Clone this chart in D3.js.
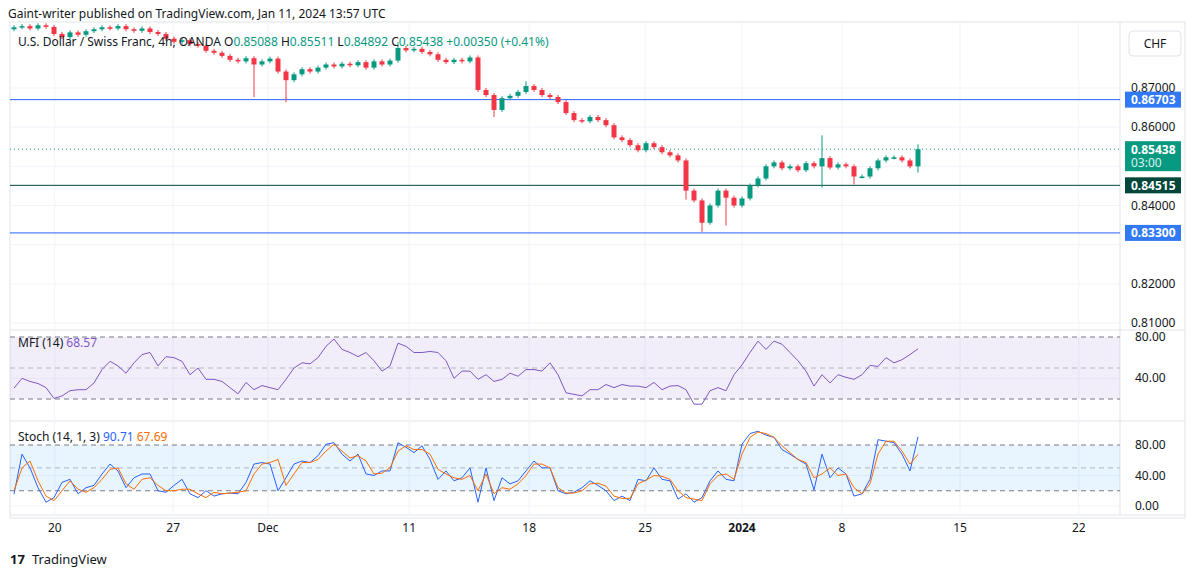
<!DOCTYPE html>
<html lang="en">
<head>
<meta charset="UTF-8">
<title>USDCHF 4h</title>
<script src="https://d3js.org/d3.v7.min.js"></script>
<style>
  body { margin: 0; background: #fff; }
  text { font-family: "Noto Sans", "DejaVu Sans", sans-serif; }
</style>
</head>
<body>
<script>
// closes, one per 8 hours (open = previous close)
const closes = [
  0.8855, 0.8858, 0.8852, 0.8860, 0.8856, 0.8838, 0.8830, 0.8842, 0.8836, 0.8845,
  0.8850, 0.8855, 0.8852, 0.8858, 0.8850, 0.8846, 0.8852, 0.8843, 0.8838, 0.8826,
  0.8818, 0.8822, 0.8812, 0.8808, 0.8795, 0.8790, 0.8782, 0.8772, 0.8768, 0.8776,
  0.8760, 0.8768, 0.8775, 0.8742, 0.8720, 0.8735, 0.8748, 0.8742, 0.8752, 0.8760,
  0.8755, 0.8762, 0.8758, 0.8766, 0.8752, 0.8768, 0.8760, 0.8770, 0.8802, 0.8796,
  0.8800, 0.8792, 0.8786, 0.8772, 0.8766, 0.8772, 0.8768, 0.8778, 0.8695, 0.8682,
  0.8644, 0.8674, 0.8680, 0.8690, 0.8705, 0.8695, 0.8682, 0.8677, 0.8664, 0.8636,
  0.8618, 0.8615, 0.8626, 0.8618, 0.8605, 0.8574, 0.8567, 0.8554, 0.8541, 0.8559,
  0.8549, 0.8536, 0.8528, 0.8515, 0.8438, 0.8413, 0.8356, 0.8400, 0.8438, 0.8420,
  0.8400, 0.8418, 0.8451, 0.8469, 0.8500, 0.8510, 0.8495, 0.8500, 0.8490, 0.8508,
  0.8500, 0.8521, 0.8497, 0.8505, 0.8500, 0.8474, 0.8474, 0.8495, 0.8515, 0.8523,
  0.8523, 0.8515, 0.8500, 0.85438
];
const firstOpen = 0.8850;
// notable wicks [index, high, low]
const wicks = [
  [30, null, 0.8682], [34, null, 0.8669], [60, null, 0.8631], [86, null, 0.8338],
  [89, null, 0.8354], [101, 0.8574, 0.8451], [105, null, 0.8459], [113, 0.85511, 0.84892],
  [84, null, 0.8420], [64, 0.8712, null], [48, 0.8812, null]
];
const mfi = [
  30.5, 40, 37, 35, 31, 20.5, 23, 28, 29, 29, 35.5, 48.5, 56.5, 52, 45, 55, 63, 65, 52, 61,
  60, 56.5, 43.5, 50, 39, 39, 37, 31, 25, 36, 29, 33, 31, 29, 39, 50, 55, 54, 60, 71,
  78, 68, 65, 61, 65, 57, 47, 52, 74, 71, 65, 65, 66, 65, 57, 40, 47, 47, 39, 43.5,
  37, 39, 45, 42, 48.5, 48.5, 47, 55, 43.5, 26, 24.5, 23, 29, 29, 34, 31, 34, 32.5, 32.5, 31,
  36, 29, 32.5, 33, 29, 15, 15, 28, 31, 28, 43.5, 53, 65, 76, 68, 76, 73, 65, 57, 47,
  32.5, 43.5, 35.5, 43.5, 41, 39, 43.5, 52.5, 51.5, 60, 55, 58, 63, 68.57
];
const stochK = [
  15.6, 68, 50, 24, 5, 11, 31, 35, 16, 24, 27, 42, 55, 46, 24, 37, 42, 42, 20, 18,
  27, 35, 16, 11, 20, 13, 16, 17, 16, 31, 55, 57, 55, 20, 37, 55, 59, 57, 66, 81,
  83, 68, 59, 68, 42, 40, 46, 46, 83, 77, 70, 79, 61, 35, 46, 33, 37, 50, 5, 50,
  7, 37, 29, 33, 46, 59, 50, 50, 20, 16, 18, 24, 33, 27, 20, 7, 13, 7, 35, 33,
  50, 35, 33, 9, 16, 5, 11, 33, 46, 35, 33, 81, 95, 98, 93, 90, 74, 68, 61, 55,
  21, 68, 37, 50, 42, 13, 16, 35, 87, 85, 83, 68, 46, 90.71
];
const stochD = [
  20, 50, 59, 33, 13, 7, 20, 33, 22, 18, 24, 35, 48, 50, 29, 22, 35, 37, 27, 20,
  20, 22, 22, 16, 11, 18, 16, 17, 18, 20, 42, 55, 57, 61, 27, 42, 57, 57, 61, 72,
  81, 72, 63, 66, 59, 42, 43, 50, 72, 79, 74, 74, 68, 48, 42, 37, 35, 40, 20, 42,
  16, 24, 22, 29, 40, 55, 55, 50, 24, 17, 17, 20, 29, 30, 26, 13, 10, 10, 29, 34,
  40, 39, 35, 20, 11, 9, 7, 29, 40, 42, 35, 68, 90, 97, 95, 90, 79, 70, 61, 57,
  37, 42, 50, 40, 42, 24, 16, 29, 68, 85, 85, 72, 55, 67.69
];
const dateTicks = [[5.1, "20"], [19.9, "27"], [31.75, "Dec"], [49.4, "11"], [64.4, "18"],
  [78.9, "25"], [91, "2024"], [103.5, "8"], [118.25, "15"], [133.1, "22"]];
const priceTicks = [0.81, 0.82, 0.83, 0.84, 0.85, 0.86, 0.87];
const priceAxisLabels = [0.87, 0.86, 0.84, 0.82, 0.81];
const levels = [[0.86703, "#2962ff", "#3179f5"], [0.84515, "#00463a", "#00463a"], [0.833, "#2962ff", "#3179f5"]];
const lastPrice = 0.85438;
const bandTicks = [80, 50, 20];

const W = 1195, H = 577;
const L = 10, R = 1120, RA = 1185;
const svg = d3.select("body").append("svg").attr("width", W).attr("height", H);

const x = d3.scaleLinear().domain([0, closes.length - 1]).range([14, 918]);
const y = d3.scaleLinear().domain([0.81, 0.87]).range([323, 88]);
const yM = d3.scaleLinear().domain([20, 80]).range([399, 337]);
const yS = d3.scaleLinear().domain([0, 80]).range([506, 445]);

// header
svg.append("text").attr("x", 8).attr("y", 18).attr("font-size", 12).attr("fill", "#131722")
  .text("Gaint-writer published on TradingView.com, Jan 11, 2024 13:57 UTC");

// frame and pane separators
svg.append("rect").attr("x", L).attr("y", 22).attr("width", RA - L).attr("height", 518 - 22)
  .attr("fill", "none").attr("stroke", "#e0e3eb");
svg.append("line").attr("x1", R).attr("x2", R).attr("y1", 22).attr("y2", 515).attr("stroke", "#e0e3eb");
[330, 421, 515].forEach(v => svg.append("line").attr("x1", L).attr("x2", RA)
  .attr("y1", v).attr("y2", v).attr("stroke", "#e0e3eb"));

// vertical grid
const grid = svg.append("g").attr("stroke", "#f0f3fa");
dateTicks.forEach(([i]) => grid.append("line").attr("x1", x(i)).attr("x2", x(i)).attr("y1", 22).attr("y2", 515));
priceTicks.forEach(p => grid.append("line").attr("x1", L).attr("x2", R).attr("y1", y(p)).attr("y2", y(p)));
grid.append("line").attr("x1", L).attr("x2", R).attr("y1", yM(40)).attr("y2", yM(40));
grid.append("line").attr("x1", L).attr("x2", R).attr("y1", yS(40)).attr("y2", yS(40));
grid.append("line").attr("x1", L).attr("x2", R).attr("y1", yS(0)).attr("y2", yS(0));

// price pane
svg.append("defs").append("clipPath").attr("id", "pc")
  .append("rect").attr("x", L).attr("y", 23).attr("width", R - L).attr("height", 306);
const pp = svg.append("g").attr("clip-path", "url(#pc)");

levels.forEach(([p, c]) => pp.append("line").attr("x1", L).attr("x2", R)
  .attr("y1", y(p)).attr("y2", y(p)).attr("stroke", c).attr("stroke-width", 1));
pp.append("line").attr("x1", L).attr("x2", R).attr("y1", y(lastPrice)).attr("y2", y(lastPrice))
  .attr("stroke", "#089981").attr("stroke-dasharray", "1,3");

const candles = closes.map((c, i) => {
  const o = i === 0 ? firstOpen : closes[i - 1];
  const w = wicks.find(d => d[0] === i);
  return {i, o, c, h: w && w[1] != null ? w[1] : Math.max(o, c), l: w && w[2] != null ? w[2] : Math.min(o, c)};
});
const cg = pp.selectAll("g.c").data(candles).enter().append("g")
  .attr("fill", d => d.c >= d.o ? "#089981" : "#f23645")
  .attr("stroke", d => d.c >= d.o ? "#089981" : "#f23645");
cg.append("line").attr("x1", d => x(d.i)).attr("x2", d => x(d.i))
  .attr("y1", d => y(d.h) - 2).attr("y2", d => y(d.l) + 2).attr("stroke-width", 1);
cg.append("rect").attr("x", d => x(d.i) - 2.5).attr("width", 5).attr("stroke", "none")
  .attr("y", d => Math.min(y(d.o), y(d.c)))
  .attr("height", d => Math.max(1.5, Math.abs(y(d.o) - y(d.c))));

// legend
const lg = svg.append("text").attr("x", 18).attr("y", 46).attr("font-size", 12).attr("fill", "#131722");
lg.append("tspan").text("U.S. Dollar / Swiss Franc, 4h, OANDA  O");
lg.append("tspan").attr("fill", "#089981").text("0.85088");
lg.append("tspan").text(" H");
lg.append("tspan").attr("fill", "#089981").text("0.85511");
lg.append("tspan").text(" L");
lg.append("tspan").attr("fill", "#089981").text("0.84892");
lg.append("tspan").text(" C");
lg.append("tspan").attr("fill", "#089981").text("0.85438 +0.00350 (+0.41%)");

// CHF box
svg.append("rect").attr("x", 1129).attr("y", 31).attr("width", 52).attr("height", 25).attr("rx", 4)
  .attr("fill", "#fff").attr("stroke", "#e0e3eb");
svg.append("text").attr("x", 1155).attr("y", 48).attr("text-anchor", "middle").attr("font-size", 12)
  .attr("fill", "#131722").text("CHF");

// price axis
const ax = svg.append("g").attr("font-size", 12).attr("fill", "#131722");
priceAxisLabels.forEach(p => ax.append("text").attr("x", 1131).attr("y", y(p) + 4).text(p.toFixed(5)));
levels.forEach(([p, c, bg]) => {
  svg.append("rect").attr("x", 1125).attr("y", y(p) - 8).attr("width", 56).attr("height", 16).attr("fill", bg);
  svg.append("text").attr("x", 1131).attr("y", y(p) + 4.5).attr("font-size", 12).attr("font-weight", "bold")
    .attr("fill", "#fff").text(p.toFixed(5));
});
svg.append("rect").attr("x", 1125).attr("y", y(lastPrice) - 8).attr("width", 56).attr("height", 30).attr("fill", "#089981");
svg.append("text").attr("x", 1131).attr("y", y(lastPrice) + 4.5).attr("font-size", 12).attr("font-weight", "bold")
  .attr("fill", "#fff").text(lastPrice.toFixed(5));
svg.append("text").attr("x", 1131).attr("y", y(lastPrice) + 18).attr("font-size", 12)
  .attr("fill", "#d8f2ec").text("03:00");

// MFI pane
svg.append("rect").attr("x", L).attr("y", yM(80)).attr("width", R - L).attr("height", yM(20) - yM(80))
  .attr("fill", "rgba(126,87,194,0.1)");
bandTicks.forEach(v => svg.append("line").attr("x1", L).attr("x2", R).attr("y1", yM(v)).attr("y2", yM(v))
  .attr("stroke", v === 50 ? "#b2b5be" : "#787b86").attr("stroke-dasharray", "5,4"));
svg.append("path").datum(mfi).attr("fill", "none").attr("stroke", "#7e57c2").attr("stroke-width", 1)
  .attr("d", d3.line().x((d, i) => x(i)).y(d => yM(d)));
const ml = svg.append("text").attr("x", 18).attr("y", 347).attr("font-size", 12).attr("fill", "#131722");
ml.append("tspan").text("MFI (14)  ");
ml.append("tspan").attr("fill", "#7e57c2").text("68.57");
[80, 40].forEach(v => ax.append("text").attr("x", 1135).attr("y", yM(v) + 4).text(v.toFixed(2)));

// Stoch pane
svg.append("rect").attr("x", L).attr("y", yS(80)).attr("width", R - L).attr("height", yS(20) - yS(80))
  .attr("fill", "rgba(33,150,243,0.1)");
bandTicks.forEach(v => svg.append("line").attr("x1", L).attr("x2", R).attr("y1", yS(v)).attr("y2", yS(v))
  .attr("stroke", v === 50 ? "#b2b5be" : "#787b86").attr("stroke-dasharray", "5,4"));
svg.append("path").datum(stochK).attr("fill", "none").attr("stroke", "#2962ff").attr("stroke-width", 1)
  .attr("d", d3.line().x((d, i) => x(i)).y(d => yS(d)));
svg.append("path").datum(stochD).attr("fill", "none").attr("stroke", "#ff6d00").attr("stroke-width", 1)
  .attr("d", d3.line().x((d, i) => x(i)).y(d => yS(d)));
const sl = svg.append("text").attr("x", 18).attr("y", 441).attr("font-size", 12).attr("fill", "#131722");
sl.append("tspan").text("Stoch (14, 1, 3)  ");
sl.append("tspan").attr("fill", "#2962ff").text("90.71  ");
sl.append("tspan").attr("fill", "#ff6d00").text("67.69");
[80, 40, 0].forEach(v => ax.append("text").attr("x", 1135).attr("y", yS(v) + 4).text(v.toFixed(2)));

// time axis
dateTicks.forEach(([i, t]) => svg.append("text").attr("x", x(i)).attr("y", 532)
  .attr("text-anchor", "middle").attr("font-size", 12).attr("fill", "#131722")
  .attr("font-weight", t === "2024" ? "bold" : "normal").text(t));

// footer
svg.append("text").attr("x", 10).attr("y", 564).attr("font-size", 13).attr("font-weight", "bold")
  .attr("fill", "#131722").text("17");
svg.append("text").attr("x", 32).attr("y", 564).attr("font-size", 13).attr("fill", "#131722").text("TradingView");
</script>
</body>
</html>
